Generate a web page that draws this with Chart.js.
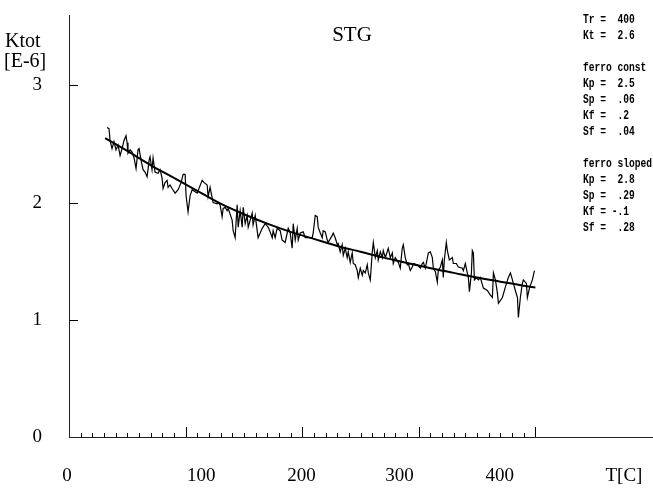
<!DOCTYPE html>
<html>
<head>
<meta charset="utf-8">
<script src="https://cdn.jsdelivr.net/npm/chart.js@4/dist/chart.umd.min.js"></script>
<style>
  html, body { margin: 0; padding: 0; background: #fff; }
  canvas { display: block; }
</style>
</head>
<body>
<canvas id="c" width="653" height="488"></canvas>
<script>
// ---- data ----
const chartTitle = 'STG';
const yTitleLines = ['Ktot', '[E-6]'];
const xTitle = 'T[C]';

const tempC = [32.6,34.3,35.2,36.9,38.6,40.3,42.1,43.8,45.5,47.2,48.9,49.8,50.6,52.4,54.1,55.8,57.5,59.2,60.1,61.8,
  63.5,65.2,67.0,68.7,69.5,71.2,72.1,73.8,76.4,78.1,79.8,80.7,82.4,84.1,85.0,86.7,88.4,91.0,93.6,96.1,
  97.9,99.6,100.4,102.1,103.0,103.9,105.6,109.9,114.2,115.9,118.5,119.3,121.0,122.8,123.6,127.0,127.9,129.6,131.3,132.2,
  133.9,135.6,136.5,139.9,140.8,142.5,144.2,145.1,146.8,148.5,149.4,151.1,152.8,153.7,157.1,157.9,159.7,161.4,162.2,165.7,
  168.2,170.8,172.5,174.3,175.1,176.8,178.5,181.1,182.8,185.4,188.0,189.7,191.4,192.3,194.0,195.7,196.6,198.3,200.9,202.6,
  205.2,208.6,209.4,211.2,212.9,213.7,215.5,217.2,218.0,219.8,221.5,222.3,225.8,226.6,228.3,230.1,230.9,232.6,234.3,235.2,
  236.9,238.6,239.5,241.2,242.9,243.8,245.5,247.2,248.1,249.8,251.5,252.4,254.1,255.8,256.7,258.4,260.1,261.0,262.7,264.4,
  265.2,267.0,268.7,269.5,271.3,273.8,275.6,277.3,278.1,279.8,282.4,284.1,285.8,286.7,288.4,290.1,291.0,292.7,294.4,295.3,
  298.7,301.3,303.0,303.9,305.6,308.2,309.9,311.6,312.5,314.2,315.9,316.7,318.5,320.2,321.0,321.9,323.6,324.5,326.2,328.8,
  329.6,332.2,333.9,337.4,338.2,339.9,341.6,342.5,343.4,345.1,345.9,346.8,347.7,349.4,351.1,352.8,354.5,355.4,358.8,361.4,
  363.1,364.0,365.7,367.4,368.3,371.7,374.3,376.8,378.6,380.3,382.8,384.6,385.4,387.1,388.8,389.7,392.3,393.1,394.9,397.4,
  399.2];
const ktot = [2.64,2.63,2.53,2.46,2.52,2.45,2.49,2.40,2.46,2.53,2.57,2.51,2.42,2.45,2.43,2.38,2.29,2.45,2.46,2.36,
  2.28,2.26,2.22,2.36,2.39,2.28,2.38,2.26,2.25,2.28,2.21,2.12,2.17,2.19,2.13,2.15,2.12,2.08,2.11,2.17,
  2.24,2.24,2.06,1.92,1.99,2.06,2.11,2.08,2.19,2.17,2.15,2.05,2.13,2.04,2.00,1.99,2.00,1.98,1.88,1.95,
  1.96,1.93,1.95,1.85,1.76,1.70,1.98,1.79,1.93,1.79,1.96,1.82,1.89,1.79,1.91,1.81,1.89,1.76,1.70,1.78,
  1.82,1.79,1.75,1.70,1.76,1.70,1.78,1.76,1.68,1.66,1.78,1.74,1.61,1.82,1.68,1.78,1.68,1.74,1.75,1.70,
  1.70,1.70,1.74,1.89,1.88,1.79,1.74,1.70,1.76,1.75,1.68,1.66,1.72,1.74,1.70,1.64,1.65,1.58,1.64,1.55,
  1.61,1.53,1.58,1.49,1.57,1.48,1.47,1.42,1.36,1.44,1.38,1.42,1.40,1.47,1.40,1.34,1.58,1.66,1.53,1.59,
  1.51,1.58,1.53,1.59,1.53,1.61,1.53,1.57,1.48,1.53,1.49,1.44,1.61,1.64,1.53,1.47,1.48,1.42,1.45,1.48,
  1.47,1.44,1.48,1.49,1.44,1.57,1.58,1.53,1.44,1.41,1.32,1.42,1.45,1.51,1.36,1.51,1.66,1.59,1.51,1.53,
  1.48,1.48,1.45,1.44,1.42,1.48,1.40,1.36,1.24,1.40,1.59,1.57,1.34,1.36,1.34,1.36,1.30,1.27,1.25,1.21,
  1.19,1.40,1.34,1.23,1.14,1.19,1.28,1.36,1.40,1.34,1.25,1.19,1.02,1.19,1.31,1.34,1.31,1.19,1.27,1.34,
  1.42];

const fitT = [31,50,70,90,110,130,150,170,190,210,230,250,270,290,310,330,350,370,390,400];
const fitK = [2.55,2.44,2.32,2.21,2.10,1.99,1.90,1.82,1.75,1.69,1.63,1.58,1.53,1.485,1.44,1.40,1.36,1.325,1.29,1.275];

const yTickValues = [0,1,2,3];
const xTickValues = [0,100,200,300,400];
const xTickLabels = ['0','100','200','300','400'];
const xMinorStep = 10;

const paramLines = ['Tr =  400','Kt =  2.6','','ferro const','Kp =  2.5','Sp =  .06','Kf =  .2','Sf =  .04',
  '','ferro sloped','Kp =  2.8','Sp =  .29','Kf = -.1','Sf =  .28'];

// ---- build ----
const measured = tempC.map((t, i) => ({ x: t, y: ktot[i] }));
const fitted = fitT.map((t, i) => ({ x: t, y: fitK[i] }));

const serif = '"Liberation Serif", "Times New Roman", serif';
const mono = '"Liberation Mono", "DejaVu Sans Mono", monospace';

// label positions of the old plotter (labels drift from the tick marks)
const xLabelAt = { '0': -33, '100': 101, '200': 201, '300': 299, '400': 399, 'T[C]': 523 };

const noPad = s => { s.paddingTop = 0; s.paddingBottom = 0; s.paddingLeft = 0; s.paddingRight = 0; };

const overlay = {
  id: 'overlay',
  afterDraw(chart) {
    const ctx = chart.ctx, xs = chart.scales.x, ys = chart.scales.y, a = chart.chartArea;
    ctx.save();
    ctx.strokeStyle = '#000';
    ctx.lineWidth = 1;
    const xmax = xTickValues[xTickValues.length - 1];
    for (let v = xMinorStep; v <= xmax; v += xMinorStep) {
      const px = Math.round(xs.getPixelForValue(v)) + 0.5;
      const major = xTickValues.includes(v);
      ctx.beginPath();
      ctx.moveTo(px, a.bottom);
      ctx.lineTo(px, a.bottom - (major ? 10 : 4));
      ctx.stroke();
    }
    yTickValues.forEach(v => {
      if (v === 0) return;
      const py = Math.round(ys.getPixelForValue(v)) + 0.5;
      ctx.beginPath();
      ctx.moveTo(a.left, py);
      ctx.lineTo(a.left + 9, py);
      ctx.stroke();
    });
    ctx.fillStyle = '#000';
    ctx.textBaseline = 'middle';
    ctx.textAlign = 'center';
    ctx.font = '21px ' + serif;
    ctx.fillText(chartTitle, 352, 35);
    ctx.textAlign = 'left';
    ctx.font = '20px ' + serif;
    ctx.fillText(yTitleLines[0], 5, 42);
    ctx.fillText(yTitleLines[1], 4, 62);
    ctx.font = 'bold 9.6px ' + mono;
    paramLines.forEach((s, i) => {
      if (!s) return;
      ctx.save();
      ctx.translate(583, 20 + i * 16);
      ctx.scale(1, 1.25);
      ctx.fillText(s, 0, 0);
      ctx.restore();
    });
    ctx.restore();
  }
};

new Chart(document.getElementById('c'), {
  type: 'line',
  data: {
    datasets: [
      { data: measured, borderColor: '#000', borderWidth: 1.2, pointRadius: 0, tension: 0, fill: false },
      { data: fitted, borderColor: '#000', borderWidth: 2, pointRadius: 0, tension: 0.4, cubicInterpolationMode: 'monotone', fill: false }
    ]
  },
  options: {
    responsive: false,
    animation: false,
    devicePixelRatio: 1,
    layout: { padding: { top: 15, right: 1, bottom: 0, left: 0 } },
    plugins: { legend: { display: false }, tooltip: { enabled: false }, title: { display: false } },
    scales: {
      x: {
        type: 'linear', position: 'bottom', min: 0, max: 500,
        grid: { display: true, drawOnChartArea: false, drawTicks: false },
        border: { display: true, color: '#222', width: 1 },
        ticks: { display: false },
        afterFit: s => { s.height = 0; noPad(s); }
      },
      xl: {
        type: 'linear', position: 'bottom', min: -31, max: 551,
        grid: { display: false, drawTicks: false },
        border: { display: false },
        afterBuildTicks: s => {
          s.ticks = xTickLabels.concat([xTitle]).map(l => ({ value: xLabelAt[l], label: l }));
        },
        ticks: {
          autoSkip: false, maxRotation: 0, padding: 28, color: '#000',
          font: { family: serif, size: 19 },
          callback: function (v, i, ticks) { return ticks[i].label; }
        },
        afterFit: s => { s.height = 51; noPad(s); }
      },
      y: {
        type: 'linear', min: 0, max: 3.6,
        grid: { display: true, drawOnChartArea: false, drawTicks: false },
        border: { display: true, color: '#222', width: 1 },
        afterBuildTicks: s => { s.ticks = yTickValues.map(v => ({ value: v })); },
        ticks: { padding: 27, color: '#000', font: { family: serif, size: 19 } },
        afterFit: s => { s.width = 69; noPad(s); }
      }
    }
  },
  plugins: [overlay]
});
</script>
</body>
</html>
